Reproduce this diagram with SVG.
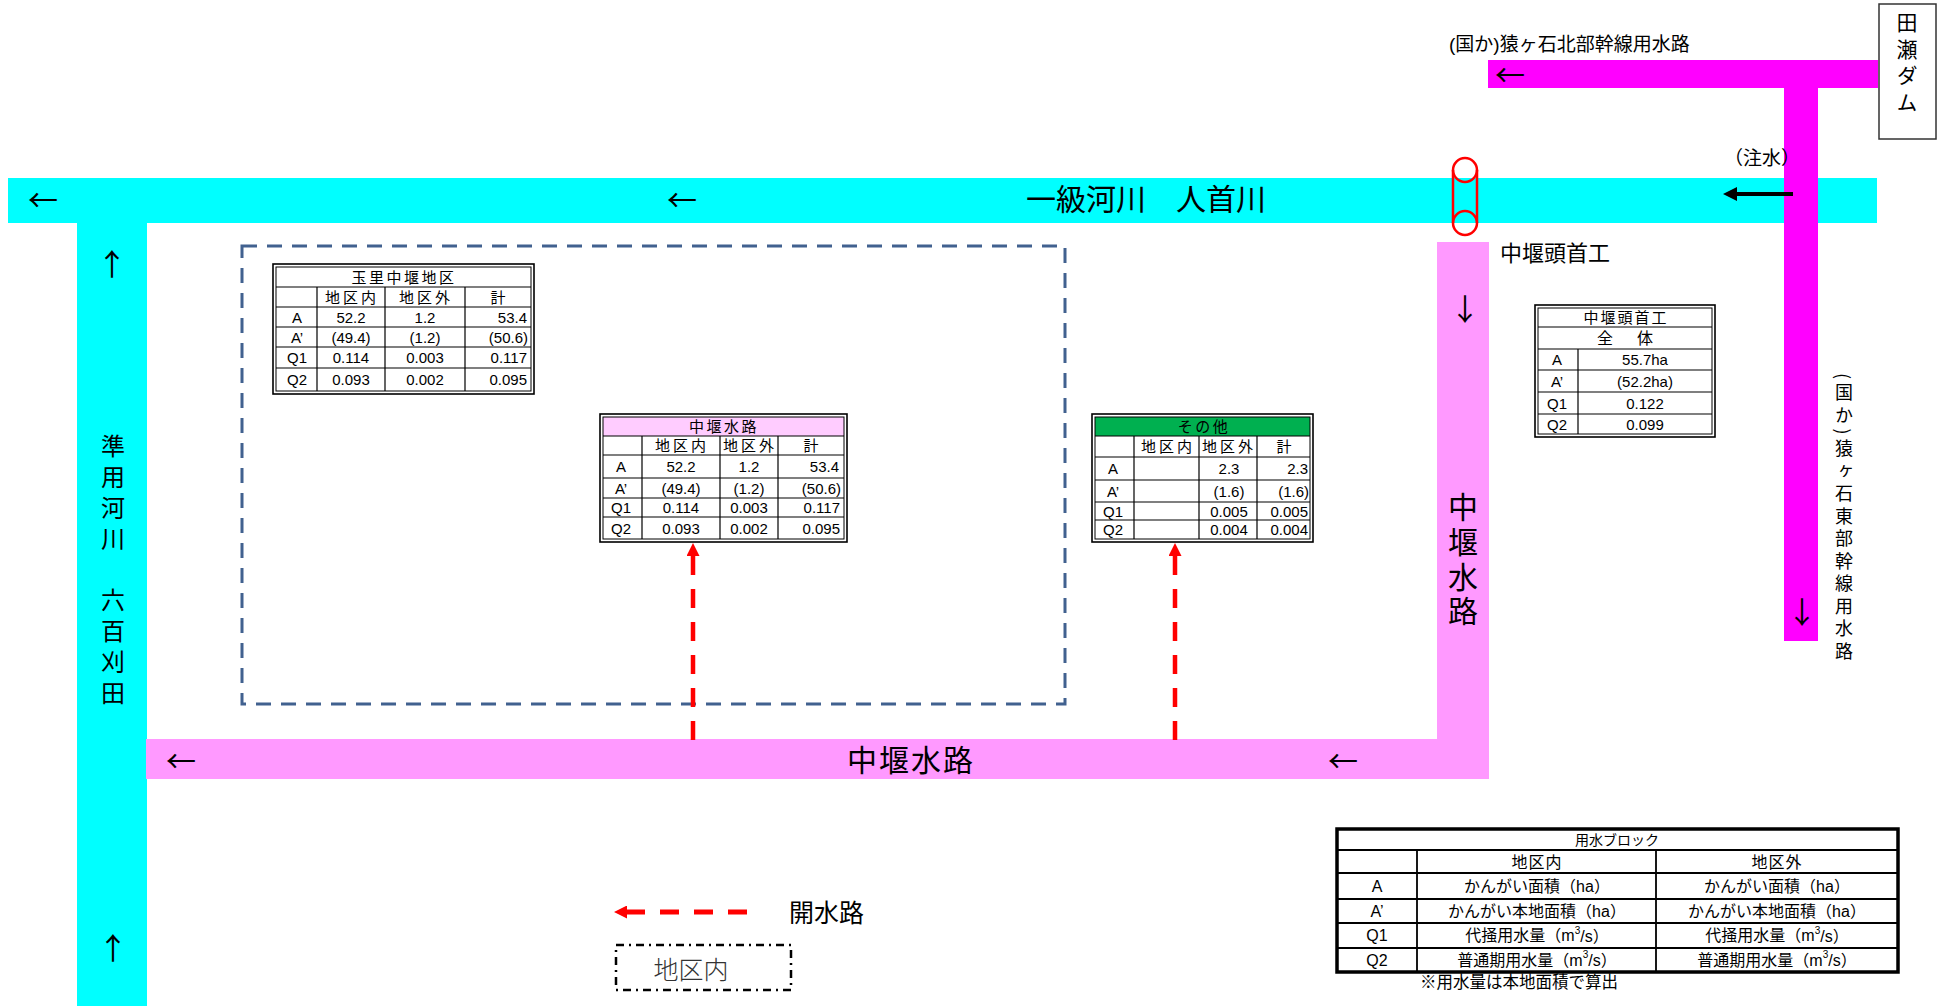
<svg xmlns="http://www.w3.org/2000/svg" width="1941" height="1006" viewBox="0 0 1941 1006">
<style>
text{font-family:"Liberation Sans","Noto Sans CJK JP",sans-serif;fill:#000}
.c{text-anchor:middle;dominant-baseline:central}
.r{text-anchor:end;dominant-baseline:central}
.l{text-anchor:start;dominant-baseline:central}
.t{font-size:15px}
.h{font-size:15px;letter-spacing:3px}
.ti{font-size:15px;letter-spacing:2.5px}
.lg{font-size:16px}
.arr{font-family:"Noto Sans CJK JP",sans-serif;font-size:30px;text-anchor:middle;dominant-baseline:central}
.vt{writing-mode:vertical-rl;font-family:"Noto Sans CJK JP",sans-serif}
.grid{stroke:#000;stroke-width:1.2;fill:none}
.ob{fill:#fff;stroke:#000;stroke-width:1.6}
.ib{fill:none;stroke:#000;stroke-width:1}
.cyan{fill:#00FFFF}
.mag{fill:#FF00FF}
.pink{fill:#FF99FF}
.red{stroke:#FF0000;stroke-width:4.5;stroke-dasharray:19 14;fill:none}
</style>
<defs>
<marker id="rh" markerUnits="userSpaceOnUse" viewBox="0 0 13 13" markerWidth="13" markerHeight="13" refX="0" refY="6.5" orient="auto">
<path d="M0,0 L13,6.5 L0,13 z" fill="#FF0000"/>
</marker>
<marker id="bh" markerUnits="userSpaceOnUse" viewBox="0 0 14 14" markerWidth="14" markerHeight="14" refX="0" refY="7" orient="auto">
<path d="M0,0 L14,7 L0,14 z" fill="#000"/>
</marker>
</defs>
<rect width="1941" height="1006" fill="#fff"/>

<g id="river-main">
<rect class="cyan" x="8" y="178" width="1869" height="45"/>
<text x="1146" y="199" class="c jp" style="font-size:30px">一級河川　人首川</text>
<text x="43" y="198" class="arr">←</text>
<text x="682" y="198" class="arr">←</text>
</g>

<g id="river-left">
<rect class="cyan" x="77" y="178" width="70" height="828"/>
<text x="113" y="434" class="vt" style="font-size:24px;letter-spacing:6.8px">準用河川　六百刈田</text>
<text x="112" y="262" class="arr">↑</text>
<text x="113" y="946" class="arr">↑</text>
</g>

<g id="canal">
<rect class="pink" x="146" y="739" width="1343" height="40"/>
<rect class="pink" x="1437" y="242" width="52" height="537"/>
<text x="911" y="760" class="c jp" style="font-size:30px;letter-spacing:2px">中堰水路</text>
<text x="1463" y="492" class="vt" style="font-size:30px;letter-spacing:4.7px">中堰水路</text>
<text x="181" y="759" class="arr">←</text>
<text x="1343" y="759" class="arr">←</text>
<text x="1465" y="307" class="arr">↓</text>
</g>

<g id="pipe-north">
<rect class="mag" x="1488" y="60" width="390" height="28"/>
<text x="1510" y="73" class="arr">←</text>
<text x="1449" y="44" class="l" style="font-size:19px">(国か)猿ヶ石北部幹線用水路</text>
</g>

<g id="pipe-east">
<rect class="mag" x="1784" y="60" width="34" height="581"/>
<text x="1802" y="610" class="arr">↓</text>
<text x="1844" y="373" class="vt" style="font-size:18px;letter-spacing:4.5px">(国か)猿ヶ石東部幹線用水路</text>
</g>

<g id="dam">
<rect x="1879" y="4" width="57" height="135" fill="#fff" stroke="#333" stroke-width="1.5"/>
<text x="1907" y="12" class="vt" style="font-size:21px;letter-spacing:5.5px">田瀬ダム</text>
</g>

<g id="headworks">
<path d="M1453,170 V223 M1477,170 V223" stroke="#FF0000" stroke-width="2.5" fill="none"/>
<circle cx="1465" cy="170" r="12" fill="none" stroke="#FF0000" stroke-width="2.5"/>
<circle cx="1465" cy="223" r="12" fill="none" stroke="#FF0000" stroke-width="2.5"/>
<text x="1500" y="253" class="l jp" style="font-size:22px">中堰頭首工</text>
</g>

<g id="injection">
<text x="1724" y="158" class="l jp" style="font-size:19px">（注水）</text>
</g>

<g id="district-boundary">
<rect x="242" y="246" width="823" height="458" fill="none" stroke="#41618F" stroke-width="3" stroke-dasharray="15 10"/>
</g>

<g id="table-tamasato">
<rect x="273" y="264" width="261" height="130" class="ob"/>
<rect x="276" y="267" width="255" height="124" class="ib"/>
<path class="grid" d="M276 287H531M276 307H531M276 327H531M276 347H531M276 368H531M317 287V391M385 287V391M465 287V391"/>
<text x="404" y="277" class="c ti">玉里中堰地区</text>
<text x="352" y="297" class="c h">地区内</text>
<text x="426" y="297" class="c h">地区外</text>
<text x="498" y="297" class="c t">計</text>
<text x="297" y="317" class="c t">A</text>
<text x="297" y="337" class="c t">A’</text>
<text x="297" y="357.5" class="c t">Q1</text>
<text x="297" y="379.5" class="c t">Q2</text>
<text x="351" y="317" class="c t">52.2</text>
<text x="425" y="317" class="c t">1.2</text>
<text x="527" y="317" class="r t">53.4</text>
<text x="351" y="337" class="c t">(49.4)</text>
<text x="425" y="337" class="c t">(1.2)</text>
<text x="528" y="337" class="r t">(50.6)</text>
<text x="351" y="357.5" class="c t">0.114</text>
<text x="425" y="357.5" class="c t">0.003</text>
<text x="527" y="357.5" class="r t">0.117</text>
<text x="351" y="379.5" class="c t">0.093</text>
<text x="425" y="379.5" class="c t">0.002</text>
<text x="527" y="379.5" class="r t">0.095</text>
</g>

<g id="table-canal">
<rect x="600" y="414" width="247" height="128" class="ob"/>
<rect x="603" y="417" width="241" height="19" fill="#FFCCFF"/>
<rect x="603" y="417" width="241" height="122" class="ib"/>
<path class="grid" d="M603 436H844M603 455H844M603 478H844M603 498H844M603 517H844M642 436V539M720 436V539M778 436V539"/>
<text x="724" y="426.5" class="c ti">中堰水路</text>
<text x="682" y="445.5" class="c h">地区内</text>
<text x="750" y="445.5" class="c h">地区外</text>
<text x="811" y="445.5" class="c t">計</text>
<text x="621" y="466.5" class="c t">A</text>
<text x="621" y="488" class="c t">A’</text>
<text x="621" y="507.5" class="c t">Q1</text>
<text x="621" y="528" class="c t">Q2</text>
<text x="681" y="466.5" class="c t">52.2</text>
<text x="749" y="466.5" class="c t">1.2</text>
<text x="839" y="466.5" class="r t">53.4</text>
<text x="681" y="488" class="c t">(49.4)</text>
<text x="749" y="488" class="c t">(1.2)</text>
<text x="841" y="488" class="r t">(50.6)</text>
<text x="681" y="507.5" class="c t">0.114</text>
<text x="749" y="507.5" class="c t">0.003</text>
<text x="840" y="507.5" class="r t">0.117</text>
<text x="681" y="528" class="c t">0.093</text>
<text x="749" y="528" class="c t">0.002</text>
<text x="840" y="528" class="r t">0.095</text>
</g>

<g id="table-other">
<rect x="1092" y="414" width="221" height="128" class="ob"/>
<rect x="1095" y="417" width="215" height="19" fill="#00B050"/>
<rect x="1095" y="417" width="215" height="122" class="ib"/>
<path class="grid" d="M1095 436H1310M1095 457H1310M1095 480H1310M1095 502H1310M1095 520H1310M1134 436V539M1199 436V539M1257 436V539"/>
<text x="1204" y="426.5" class="c ti">その他</text>
<text x="1168" y="446.5" class="c h">地区内</text>
<text x="1229" y="446.5" class="c h">地区外</text>
<text x="1284" y="446.5" class="c t">計</text>
<text x="1113" y="468.5" class="c t">A</text>
<text x="1113" y="491" class="c t">A’</text>
<text x="1113" y="511" class="c t">Q1</text>
<text x="1113" y="529.5" class="c t">Q2</text>
<text x="1229" y="468.5" class="c t">2.3</text>
<text x="1308" y="468.5" class="r t">2.3</text>
<text x="1229" y="491" class="c t">(1.6)</text>
<text x="1309" y="491" class="r t">(1.6)</text>
<text x="1229" y="511" class="c t">0.005</text>
<text x="1308" y="511" class="r t">0.005</text>
<text x="1229" y="529.5" class="c t">0.004</text>
<text x="1308" y="529.5" class="r t">0.004</text>
</g>

<g id="table-headworks">
<rect x="1535" y="305" width="180" height="132" class="ob"/>
<rect x="1538" y="308" width="174" height="126" class="ib"/>
<path class="grid" d="M1538 327H1712M1538 349H1712M1538 370H1712M1538 392H1712M1538 414H1712M1578 349V434"/>
<text x="1626" y="317.5" class="c" style="font-size:15px;letter-spacing:2px">中堰頭首工</text>
<text x="1627" y="338" class="c" style="font-size:16px;letter-spacing:4px">全　体</text>
<text x="1557" y="359.5" class="c t">A</text>
<text x="1557" y="381" class="c t">A’</text>
<text x="1557" y="403" class="c t">Q1</text>
<text x="1557" y="424" class="c t">Q2</text>
<text x="1645" y="359.5" class="c t">55.7ha</text>
<text x="1645" y="381" class="c t">(52.2ha)</text>
<text x="1645" y="403" class="c t">0.122</text>
<text x="1645" y="424" class="c t">0.099</text>
</g>

<g id="legend-table">
<rect x="1337" y="829" width="561" height="143" fill="#fff" stroke="#000" stroke-width="3.5"/>
<path d="M1337 850H1898M1337 873H1898M1337 899H1898M1337 923H1898M1337 948H1898M1417 850V972M1656 850V972" stroke="#000" stroke-width="1.8" fill="none"/>
<text x="1617" y="840" class="c" style="font-size:14px">用水ブロック</text>
<text x="1537" y="862" class="c" style="font-size:16px;letter-spacing:1px">地区内</text>
<text x="1777" y="862" class="c" style="font-size:16px;letter-spacing:1px">地区外</text>
<text x="1377" y="886" class="c lg">A</text>
<text x="1377" y="911" class="c lg">A’</text>
<text x="1377" y="935.5" class="c lg">Q1</text>
<text x="1377" y="960" class="c lg">Q2</text>
<text x="1537" y="886" class="c lg">かんがい面積（ha）</text>
<text x="1777" y="886" class="c lg">かんがい面積（ha）</text>
<text x="1537" y="911" class="c lg">かんがい本地面積（ha）</text>
<text x="1777" y="911" class="c lg">かんがい本地面積（ha）</text>
<text x="1537" y="935.5" class="c lg">代掻用水量（m<tspan dy="-6" font-size="10">3</tspan><tspan dy="6">/s）</tspan></text>
<text x="1777" y="935.5" class="c lg">代掻用水量（m<tspan dy="-6" font-size="10">3</tspan><tspan dy="6">/s）</tspan></text>
<text x="1537" y="960" class="c lg">普通期用水量（m<tspan dy="-6" font-size="10">3</tspan><tspan dy="6">/s）</tspan></text>
<text x="1777" y="960" class="c lg">普通期用水量（m<tspan dy="-6" font-size="10">3</tspan><tspan dy="6">/s）</tspan></text>
<text x="1420" y="982" class="l" style="font-size:16.5px">※用水量は本地面積で算出</text>
</g>

<g id="legend-keys">
<line x1="747" y1="912" x2="627" y2="912" stroke="#FF0000" stroke-width="5" stroke-dasharray="19 15" marker-end="url(#rh)"/>
<text x="789" y="913" class="l jp" style="font-size:25px">開水路</text>
<rect x="616" y="945" width="175" height="45" fill="none" stroke="#000" stroke-width="2.5" stroke-dasharray="8 5 2 5"/>
<text x="691" y="970" class="c jp" style="font-size:25px;fill:#333;font-weight:300">地区内</text>
</g>

<g id="connectors">
<line x1="693" y1="740" x2="693" y2="556" class="red" marker-end="url(#rh)"/>
<line x1="1175" y1="740" x2="1175" y2="556" class="red" marker-end="url(#rh)"/>
<line x1="1793" y1="194" x2="1737" y2="194" stroke="#000" stroke-width="4" marker-end="url(#bh)"/>
</g>
</svg>
